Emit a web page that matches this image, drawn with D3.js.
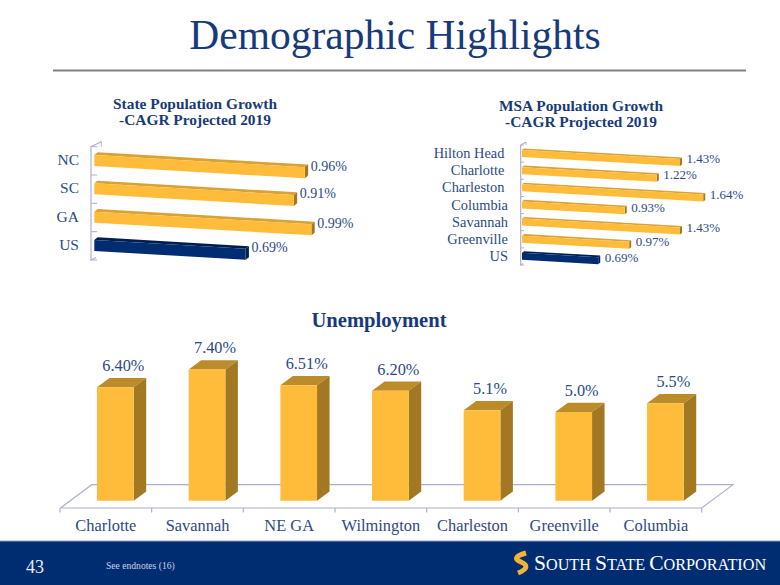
<!DOCTYPE html>
<html><head><meta charset="utf-8">
<script src="https://cdn.jsdelivr.net/npm/d3@7"></script>
<style>html,body{margin:0;padding:0;background:#fff}svg{display:block}text{font-family:"Liberation Serif",serif;white-space:pre}</style>
</head><body><svg id="c" width="780" height="585"></svg>
<script>
const stateCats = ["NC","SC","GA","US"];
const stateVals = [0.96,0.91,0.99,0.69];
const msaCats = ["Hilton Head\u00A0","Charlotte\u00A0","Charleston\u00A0","Columbia","Savannah","Greenville","US"];
const msaVals = [1.43,1.22,1.64,0.93,1.43,0.97,0.69];
const unempCats = ["Charlotte","Savannah","NE GA","Wilmington","Charleston","Greenville","Columbia"];
const unempVals = [6.40,7.40,6.51,6.20,5.1,5.0,5.5];
const unempLabels = ["6.40%","7.40%","6.51%","6.20%","5.1%","5.0%","5.5%"];

const NAVY="#002d72",GOLD="#ffbc3b",GTOP="#bd8c2a",GSIDE="#a27823",HTOP="#d9a233",NTOP="#001f50",NSIDE="#00204f",
      TXT="#2b4a86",HEAD="#173a7a",GRID="#aeb0cb";
const svg=d3.select("#c");
const poly=(g,pts,fill)=>g.append("path").attr("d",d3.line()(pts)+"Z").attr("fill",fill);

// header
svg.append("text").attr("x",395).attr("y",49).attr("text-anchor","middle")
  .attr("font-size",41.5).attr("fill",HEAD).text("Demographic Highlights");
svg.append("line").attr("x1",53).attr("x2",746).attr("y1",70.5).attr("y2",70.5).attr("stroke","#808080").attr("stroke-width",2);

function title(lines,cx,y0,size,lh){
  lines.forEach((t,i)=>svg.append("text").attr("x",cx).attr("y",y0+i*lh).attr("text-anchor","middle")
    .attr("font-weight","bold").attr("font-size",size).attr("fill",HEAD).text(t));
}
title(["State Population Growth","-CAGR Projected 2019"],195,109,15.4,15.5);
title(["MSA Population Growth","-CAGR Projected 2019"],581,111,15.4,15.5);
title(["Unemployment"],379,327,20.6,0);

function hbar(o){
  const g=svg.append("g");
  const y=d3.scaleBand().domain(o.cats).range([o.top,o.bottom]);
  const x=d3.scaleLinear().domain([0,1]).range([o.x0,o.x0+o.perUnit]);
  const step=y.bandwidth();
  g.append("path").attr("fill","none").attr("stroke",GRID).attr("stroke-width",1.2)
    .attr("d",d3.line()([[o.wallX+o.wallD,o.top-o.wallU],[o.wallX,o.top],[o.wallX,o.bottom],[o.wallX+o.wallD*0.5,o.bottom-o.wallU*0.5]]));
  g.append("line").attr("x1",o.wallX+o.wallD).attr("x2",o.wallX+o.wallD).attr("y1",o.top-o.wallU).attr("y2",o.top).attr("stroke",GRID).attr("stroke-width",1);
  y.domain().concat([null]).forEach((c,i)=>{
    const yy=o.top+i*step;
    g.append("line").attr("x1",o.wallX).attr("x2",o.wallX+o.wallD*0.6).attr("y1",yy).attr("y2",yy).attr("stroke",GRID);
  });
  o.cats.forEach((c,i)=>{
    const v=o.vals[i],isUS=c==="US";
    const x1=x(v), yt=y(c)+o.inset, drop=(x1-o.x0)*o.slope, h=o.h;
    poly(g,[[o.x0,yt],[o.x0+o.dx,yt-o.dy],[x1+o.dx,yt+drop-o.dy],[x1,yt+drop]],isUS?NTOP:HTOP);
    poly(g,[[x1,yt+drop],[x1+o.dx,yt+drop-o.dy],[x1+o.dx,yt+drop+h-o.dy],[x1,yt+drop+h]],isUS?NSIDE:GSIDE);
    poly(g,[[o.x0,yt],[x1,yt+drop],[x1,yt+drop+h],[o.x0,yt+h]],isUS?NAVY:GOLD);
    g.append("text").attr("x",o.labelX).attr("y",y(c)+step/2+o.labelDy).attr("text-anchor","end")
      .attr("font-size",o.fs).attr("fill",TXT).attr("dominant-baseline","middle").text(c);
    g.append("text").attr("x",x1+o.dx+o.valGap).attr("y",yt+drop+o.valDy).attr("font-size",o.vfs)
      .attr("fill",TXT).attr("dominant-baseline","middle").text(v.toFixed(2)+"%");
  });
}
hbar({cats:stateCats,vals:stateVals,top:146.7,bottom:260,x0:94.3,perUnit:219.3,slope:0.0585,h:11,inset:8.3,dx:3.3,dy:2.7,
  wallX:91,wallD:10.3,wallU:5,labelX:79,labelDy:0.7,fs:15.5,vfs:14,valGap:2.5,valDy:0});
hbar({cats:msaCats,vals:msaVals,top:145,bottom:265,x0:522,perUnit:110.5,slope:0.057,h:7,inset:5,dx:2,dy:1.6,
  wallX:520.7,wallD:5.3,wallU:3,labelX:508,labelDy:1.3,fs:14.4,vfs:13,valGap:4.5,valDy:1.5});

// Unemployment 3-D columns
(function(){
  const g=svg.append("g");
  const x=d3.scaleBand().domain(unempCats).range([60,701.7]);
  const y=d3.scaleLinear().domain([0,1]).range([500.7,500.7-17.73]);
  const bw=36.7,dx=12.5,dy=9.3,off=37,step=x.bandwidth();
  g.append("path").attr("fill","none").attr("stroke",GRID).attr("stroke-width",1.2)
    .attr("d",d3.line()([[60.5,508],[91.7,484.7],[733,484.7],[701.7,508],[60.5,508]]));
  unempCats.concat([null]).forEach((c,i)=>{
    const xx=60+i*step;
    g.append("line").attr("x1",xx).attr("x2",xx).attr("y1",508).attr("y2",512.5).attr("stroke",GRID).attr("stroke-width",1.2);
  });
  unempCats.forEach((c,i)=>{
    const v=unempVals[i],x0=x(c)+off,x1=x0+bw,yt=y(v),yb=y(0);
    poly(g,[[x0,yt],[x0+dx,yt-dy],[x1+dx,yt-dy],[x1,yt]],GTOP);
    poly(g,[[x1,yt],[x1+dx,yt-dy],[x1+dx,yb-dy],[x1,yb]],GSIDE);
    poly(g,[[x0,yt],[x1,yt],[x1,yb],[x0,yb]],GOLD);
    g.append("text").attr("x",x0+bw/2+8).attr("y",yt-dy-10.5).attr("text-anchor","middle").attr("dominant-baseline","middle")
      .attr("font-size",16.3).attr("fill",TXT).text(unempLabels[i]);
    g.append("text").attr("x",x(c)+step/2).attr("y",527).attr("text-anchor","middle").attr("dominant-baseline","middle")
      .attr("font-size",16.4).attr("fill",TXT).text(c);
  });
})();

// footer
svg.append("rect").attr("x",0).attr("y",541).attr("width",780).attr("height",44).attr("fill",NAVY);
svg.append("line").attr("x1",0).attr("x2",780).attr("y1",541).attr("y2",541).attr("stroke","#8fa3c4").attr("stroke-width",1);
svg.append("text").attr("x",26).attr("y",573).attr("font-size",18).style("font-family","'Liberation Sans Narrow','Liberation Serif',serif").attr("fill","#e8ecf4").text("43");
svg.append("text").attr("x",106).attr("y",569).attr("font-size",9.6).attr("fill","#c9d2e2").text("See endnotes (16)");
svg.append("path").attr("fill","none").attr("stroke","#f5b335").attr("stroke-width",5)
  .attr("d","M526 553 C515 556 514 559 521 562 C528 565 528 569 518 573");
const brand=svg.append("text").attr("x",534).attr("y",570).attr("fill","#fff");
[["S",21.5],["OUTH ",16.2],["S",21.5],["TATE ",16.2],["C",21.5],["ORPORATION",16.2]].forEach(([t,s])=>brand.append("tspan").attr("font-size",s).text(t));
</script></body></html>
